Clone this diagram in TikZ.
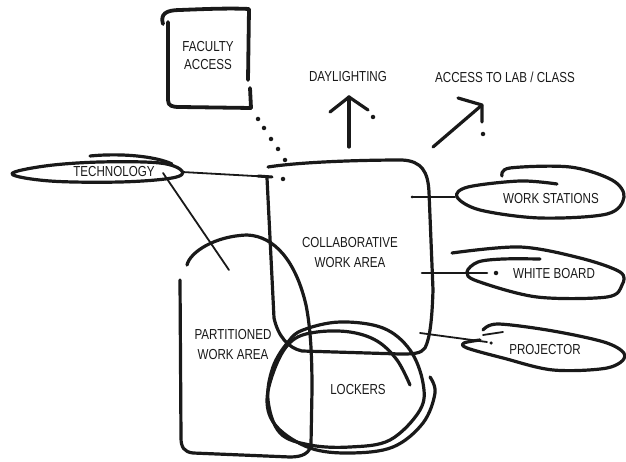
\documentclass[tikz,border=0pt]{standalone}
\usepackage{fontspec}
\setmainfont{Liberation Sans}[FakeStretch=0.8]
\begin{document}
\begin{tikzpicture}[x=1pt,y=-1pt,
  pen/.style={line width=3.2pt, line cap=round, line join=round, black!90},
  fine/.style={line width=1.8pt, line cap=round, black!90},
  blob/.style={circle, fill=black!90, inner sep=0pt, minimum size=4.5pt},
  lbl/.style={font=\fontsize{14.5}{16}\selectfont, inner sep=0pt, text=black!90, align=center}]
\useasboundingbox (0,0) rectangle (626,462);

% ---------- faculty access box ----------
\draw[pen, line width=3.8pt] (163,24) .. controls (160,14) and (166,10) .. (180,10)
  .. controls (205,9) and (230,8) .. (249,9) -- (248,80);
\draw[pen, line width=3.8pt] (250,88) -- (251,108);
\draw[pen, line width=3.8pt] (168,22) -- (168,100) .. controls (168,106) and (172,107) .. (180,107) -- (251,108);
\node[lbl] (faculty) at (208,56) {FACULTY\\[2pt]ACCESS};

% dotted access trail
\foreach \p [count=\i] in {(258,119),(264,128),(271,139),(278,149),(285,160),(283,179)}
  \node[blob] (dot\i) at \p {};

% ---------- top arrows ----------
\node[lbl] (daylight) at (348,77) {DAYLIGHTING};
\node[lbl] (labaccess) at (505,77) {ACCESS TO LAB / CLASS};
\coordinate (dayTip) at (349,97);
\coordinate (dayTail) at (349,147);
\draw[pen] (dayTail) -- (dayTip);
\draw[pen] (330,112) -- (dayTip) -- (368,110);
\node[blob] (dayDot) at (373,117) {};
\coordinate (labTip) at (482,105);
\coordinate (labTail) at (433,147);
\draw[pen] (labTail) -- (labTip);
\draw[pen] (458,98) -- (labTip) -- (482,122);
\node[blob] (labDot) at (483,134) {};

% ---------- technology ----------
\draw[pen] plot[smooth cycle, tension=0.6] coordinates
  {(12,174) (45,166) (100,162) (160,163) (182,171) (172,178) (120,182) (50,181)};
\draw[pen] (90,156) .. controls (120,153) and (155,156) .. (172,164);
\node[lbl] (tech) at (114,172) {TECHNOLOGY};
\coordinate (techEnd) at (182,172);
\coordinate (techIn) at (163,173);

% ---------- collaborative work area ----------
\draw[pen] (268,167) .. controls (300,162) and (360,160) .. (402,160)
  .. controls (422,161) and (428,172) .. (429,192)
  -- (433,290) .. controls (432,320) and (430,338) .. (425,348)
  .. controls (421,354) and (412,354) .. (400,354)
  -- (302,351) .. controls (288,348) and (278,336) .. (274,318)
  -- (267,178);
\node[lbl] (collab) at (350,253) {COLLABORATIVE\\[4pt]WORK AREA};
\coordinate (collabTL) at (272,177);
\coordinate (cWS) at (412,197);
\coordinate (cWB) at (422,273);
\coordinate (cPJ) at (420,333);
\coordinate (cTech) at (229,270);

% technology connectors
\draw[fine] (techEnd) -- (collabTL);
\draw[pen, line width=3pt] (258,176) -- (collabTL);
\draw[fine] (techIn) -- (cTech);

% ---------- work stations ----------
\draw[pen] plot[smooth, tension=0.55] coordinates
  {(502,176) (510,168) (570,167) (612,180) (624,197) (607,214) (540,218) (480,210)
   (457,197) (468,187) (520,181) (557,184)};
\node[lbl] (ws) at (551,199) {WORK STATIONS};
\coordinate (wsTip) at (455,197);
\draw[fine] (cWS) -- (wsTip);
\node[blob, minimum size=3pt] (wsDot) at (cWS) {};

% ---------- white board ----------
\draw[pen] plot[smooth, tension=0.55] coordinates
  {(452,253) (520,247) (580,258) (620,272) (622,285) (607,297) (537,297) (477,281)
   (467,272) (478,262) (503,259) (540,259)};
\node[lbl] (wb) at (554,274) {WHITE BOARD};
\coordinate (wbTip) at (487,273);
\draw[pen, line width=2.6pt] (cWB) -- (wbTip);
\node[blob] (wbDot) at (496,273) {};

% ---------- projector ----------
\draw[pen] plot[smooth, tension=0.55] coordinates
  {(483,330) (498,324) (553,331) (607,343) (625,356) (607,368) (553,370) (503,358)
   (467,348) (464,343) (480,340)};
\node[lbl] (proj) at (545,350) {PROJECTOR};
\coordinate (pjTip) at (487,342);
\draw[fine] (cPJ) -- (pjTip);
\draw[fine] (483,335) -- (503,332);
\node[blob, minimum size=3.5pt] (pjDot) at (491,343) {};

% ---------- partitioned work area ----------
\draw[pen] (187,265) .. controls (190,252) and (215,236) .. (247,235)
  .. controls (275,236) and (296,262) .. (306,305)
  .. controls (311,330) and (312,360) .. (312,390)
  -- (311,444) .. controls (310,453) and (303,457) .. (290,457)
  -- (193,453) .. controls (184,452) and (181,447) .. (181,438) -- (180,280);
\node[lbl] (part) at (233,345) {PARTITIONED\\[4pt]WORK AREA};

% ---------- lockers ----------
\draw[pen] plot[smooth cycle, tension=0.6] coordinates
  {(303,330) (340,322) (383,328) (410,350) (423,383) (420,410) (390,440) (350,447)
   (310,445) (280,433) (268,400) (273,367) (288,342)};
\draw[pen] plot[smooth, tension=0.6] coordinates
  {(410,385) (397,360) (377,341) (350,332) (317,332) (293,340) (277,363) (267,400)
   (277,427) (310,448) (350,453) (393,447) (423,423) (435,393) (430,377)};
\node[lbl] (lockers) at (358,390) {LOCKERS};
\end{tikzpicture}
\end{document}
